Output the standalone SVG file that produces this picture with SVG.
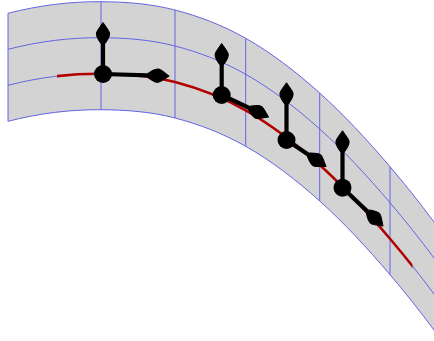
<svg xmlns="http://www.w3.org/2000/svg" width="434" height="341" viewBox="0 0 434 341">
  <style>
    .grid { fill: none; stroke: #6464e4; stroke-width: 1; }
    .curve { fill: none; stroke: #b00000; stroke-width: 2.5; }
    .shaft { stroke: #000; stroke-width: 4.2; fill: none; }
    .dot { fill: #000; }
    .head { fill: #000; stroke: #000; stroke-width: 1; stroke-linejoin: round; }
  </style>
  <defs>
    <path id="topCurve" d="M8,13.3 C39,5.35 70,1.48 101,1.7 C125.67,1.88 150.33,3.6 175,10 C198.57,16.12 222.13,24.96 245.7,38.3 C270.37,52.26 295.03,70.85 319.7,93 C343.13,114.04 366.57,139.13 390,166.7 C404.67,183.96 419.33,202.2 434,222 C442.67,233.7 451.33,243.4 460,256"/>
    <path id="head" d="M0,0 C-3,-2 -8,-6 -10.5,-6.6 C-14,-7 -17.5,-4.5 -21,-2.1 L-21,2.1 C-17.5,4.5 -14,7 -10.5,6.6 C-8,6 -3,2 0,0 Z"/>
    <clipPath id="redClip"><rect x="57" y="0" width="355.5" height="341"/></clipPath>
  </defs>

  <g id="band">
    <path fill="#d3d3d3" stroke="none" d="M8,13.3 C39,5.35 70,1.48 101,1.7 C125.67,1.88 150.33,3.6 175,10 C198.57,16.12 222.13,24.96 245.7,38.3 C270.37,52.26 295.03,70.85 319.7,93 C343.13,114.04 366.57,139.13 390,166.7 C404.67,183.96 419.33,202.2 434,222 C442.67,233.7 451.33,243.4 460,256 L460,364 C451.33,351.4 442.67,341.7 434,330 C419.33,310.2 404.67,291.96 390,274.7 C366.57,247.13 343.13,222.04 319.7,201 C295.03,178.85 270.37,160.26 245.7,146.3 C222.13,132.96 198.57,124.12 175,118 C150.33,111.6 125.67,109.88 101,109.7 C70,109.48 39,113.35 8,121.3 Z"/>
    <use href="#topCurve" class="grid"/>
    <use href="#topCurve" class="grid" transform="translate(0,36)"/>
    <use href="#topCurve" class="grid" transform="translate(0,72)"/>
    <use href="#topCurve" class="grid" transform="translate(0,108)"/>
    <line class="grid" x1="8" y1="13.3" x2="8" y2="121.3"/>
    <line class="grid" x1="101" y1="1.7" x2="101" y2="109.7"/>
    <line class="grid" x1="175" y1="10" x2="175" y2="118"/>
    <line class="grid" x1="245.7" y1="38.3" x2="245.7" y2="146.3"/>
    <line class="grid" x1="319.7" y1="93" x2="319.7" y2="201"/>
    <line class="grid" x1="390" y1="166.7" x2="390" y2="274.7"/>
  </g>

  <g id="path-curve">
    <use href="#topCurve" class="curve" transform="translate(0,72)" clip-path="url(#redClip)"/>
  </g>

  <g id="connectors">
    <line class="shaft" x1="103" y1="74" x2="103" y2="36"/>
    <line class="shaft" x1="103" y1="74" x2="156" y2="75.6"/>
    <line class="shaft" x1="221.7" y1="95" x2="221.7" y2="57"/>
    <line class="shaft" x1="221.7" y1="95" x2="257.6" y2="111.9"/>
    <line class="shaft" x1="286.5" y1="140" x2="286.5" y2="96"/>
    <line class="shaft" x1="286.5" y1="140" x2="315.2" y2="159.2"/>
    <line class="shaft" x1="342.5" y1="187.7" x2="342.5" y2="144"/>
    <line class="shaft" x1="342.5" y1="187.7" x2="373.6" y2="217.2"/>
  </g>

  <g id="frame1">
    <circle class="dot" cx="103" cy="74" r="9"/>
    <use href="#head" class="head" transform="translate(103,22.5) rotate(-90)"/>
    <use href="#head" class="head" transform="translate(169,76) rotate(1.7)"/>
  </g>
  <g id="frame2">
    <circle class="dot" cx="221.7" cy="95" r="9"/>
    <use href="#head" class="head" transform="translate(221.7,43.5) rotate(-90)"/>
    <use href="#head" class="head" transform="translate(268.5,117) rotate(25.2)"/>
  </g>
  <g id="frame3">
    <circle class="dot" cx="286.5" cy="140" r="9"/>
    <use href="#head" class="head" transform="translate(286.5,82.7) rotate(-90)"/>
    <use href="#head" class="head" transform="translate(326,166.5) rotate(34)"/>
  </g>
  <g id="frame4">
    <circle class="dot" cx="342.5" cy="187.7" r="9"/>
    <use href="#head" class="head" transform="translate(342.5,130.7) rotate(-90)"/>
    <use href="#head" class="head" transform="translate(383,226) rotate(43.5)"/>
  </g>
</svg>
